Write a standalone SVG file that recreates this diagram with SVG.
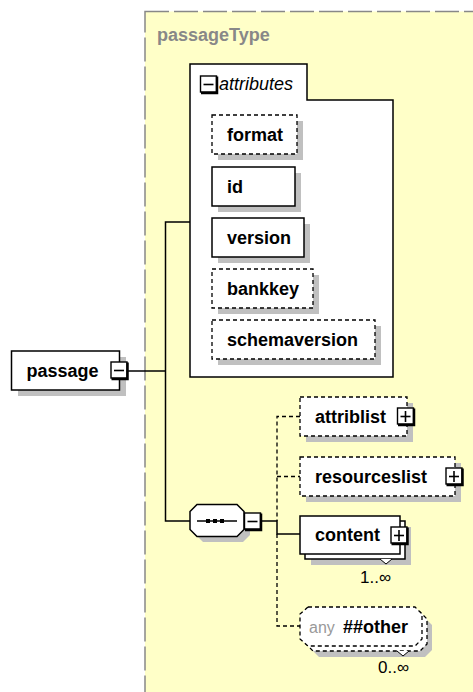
<svg xmlns="http://www.w3.org/2000/svg" width="473" height="692" viewBox="0 0 473 692">
<style>
text{font-family:"Liberation Sans",Arial,sans-serif;fill:#000}
.name{font-size:18px;font-weight:bold}
.box{fill:#fff;stroke:#000;stroke-width:1.5}
.opt{fill:#fff;stroke:#000;stroke-width:1.3;stroke-dasharray:4,3}
.sh{fill:#c0c0c0}
.ln{fill:none;stroke:#000;stroke-width:1.5}
.dl{fill:none;stroke:#000;stroke-width:1.3;stroke-dasharray:4,3}
.occ{font-size:17px}
</style>
<defs>
<g id="minus"><rect x="0" y="0" width="16" height="16" fill="#fff" stroke="#000" stroke-width="1.4"/><path d="M16.5,0.5 V17 H0.5" fill="none" stroke="#000" stroke-width="2.5"/><line x1="3" y1="8.5" x2="13" y2="8.5" stroke="#000" stroke-width="1.6"/></g>
<g id="plus"><rect x="0" y="0" width="16" height="16" fill="#fff" stroke="#000" stroke-width="1.4"/><path d="M16.5,0.5 V17 H0.5" fill="none" stroke="#000" stroke-width="2.5"/><line x1="3" y1="8.5" x2="13" y2="8.5" stroke="#000" stroke-width="1.6"/><line x1="8" y1="3" x2="8" y2="14" stroke="#000" stroke-width="1.6"/></g>
</defs>

<g id="passageType">
<rect x="145" y="11.5" width="340" height="700" fill="#ffffc8" stroke="#888" stroke-width="1.5" stroke-dasharray="24,5"/>
<text x="157" y="41" class="name" style="fill:#888">passageType</text>
</g>

<g id="connectors">
<polyline class="ln" points="128,371 165.5,371"/>
<polyline class="ln" points="190,222 165.5,222 165.5,521 190,521"/>
<polyline class="ln" points="262,521 277,521 277,534 300,534"/>
<polyline class="dl" points="300,416.5 277,416.5 277,521"/>
<polyline class="dl" points="277,476.5 300,476.5"/>
<polyline class="dl" points="277,534 277,626 300,626"/>
</g>

<g id="passage">
<rect class="sh" x="18" y="357" width="108" height="39"/>
<rect class="box" x="11.5" y="351" width="108" height="39"/>
<text x="26.5" y="377" class="name">passage</text>
<use href="#minus" x="111" y="362"/>
</g>

<g id="attributes">
<path d="M190,64 H307 V100 H393 V377 H190 Z" fill="#fff" stroke="#000" stroke-width="1.5"/>
<use href="#minus" x="200.5" y="76"/>
<text x="219" y="90" style="font-size:18px;font-style:italic">attributes</text>
</g>

<g id="format">
<rect class="sh" x="218" y="121" width="85" height="39"/>
<rect class="opt" x="212" y="115" width="85" height="39"/>
<text x="227" y="141" class="name">format</text>
</g>
<g id="id">
<rect class="sh" x="218" y="173" width="83" height="39"/>
<rect class="box" x="212" y="167" width="83" height="39"/>
<text x="227" y="193" class="name">id</text>
</g>
<g id="version">
<rect class="sh" x="218" y="224" width="92" height="39"/>
<rect class="box" x="212" y="218" width="92" height="39"/>
<text x="227" y="244" class="name">version</text>
</g>
<g id="bankkey">
<rect class="sh" x="218" y="275" width="101" height="39"/>
<rect class="opt" x="212" y="269" width="101" height="39"/>
<text x="227" y="295" class="name">bankkey</text>
</g>
<g id="schemaversion">
<rect class="sh" x="218" y="326" width="163" height="39"/>
<rect class="opt" x="212" y="320" width="163" height="39"/>
<text x="227" y="346" class="name">schemaversion</text>
</g>

<g id="sequence">
<polygon class="sh" points="203,510 243,510 250,517 250,535 243,542 203,542 196,535 196,517"/>
<polygon points="197,504.5 237,504.5 244,511.5 244,529.5 237,536.5 197,536.5 190,529.5 190,511.5" fill="#fff" stroke="#000" stroke-width="1.5"/>
<line x1="197" y1="521" x2="237" y2="521" stroke="#000" stroke-width="1.5"/>
<rect x="206" y="519" width="4" height="4"/>
<rect x="213" y="519" width="4" height="4"/>
<rect x="220" y="519" width="4" height="4"/>
<use href="#minus" x="244.5" y="513"/>
</g>

<g id="attriblist">
<rect class="sh" x="306" y="403" width="107" height="39"/>
<rect class="opt" x="300" y="397" width="107" height="39"/>
<text x="315" y="423" class="name">attriblist</text>
<use href="#plus" x="397.5" y="408"/>
</g>

<g id="resourceslist">
<rect class="sh" x="306" y="463" width="155" height="39"/>
<rect class="opt" x="300" y="457" width="155" height="39"/>
<text x="315" y="483" class="name">resourceslist</text>
<use href="#plus" x="446" y="468"/>
</g>

<g id="content">
<rect class="sh" x="311" y="527" width="100" height="38"/>
<rect class="box" x="305" y="521" width="100" height="38"/>
<rect class="box" x="300" y="516" width="100" height="38"/>
<text x="315" y="541" class="name">content</text>
<use href="#plus" x="391" y="527"/>
<polyline points="380,559 386,564 392,559" fill="#fff" stroke="#000" stroke-width="1"/>
<text x="360" y="583" class="occ">1..∞</text>
</g>

<g id="any">
<polygon class="sh" points="319,618 425,618 432,625 432,650 425,657 319,657 312,650 312,625"/>
<polygon class="opt" points="313,612 420,612 427,619 427,644 420,651 313,651 306,644 306,619"/>
<polygon class="opt" points="308,607 415,607 422,614 422,639 415,646 308,646 300,639 300,614"/>
<text x="309" y="633" style="font-size:16px;fill:#999">any</text>
<text x="343" y="633" class="name">##other</text>
<polyline points="397,651 403,656 409,651" fill="#fff" stroke="#000" stroke-width="1"/>
<text x="378" y="673" class="occ">0..∞</text>
</g>
</svg>
